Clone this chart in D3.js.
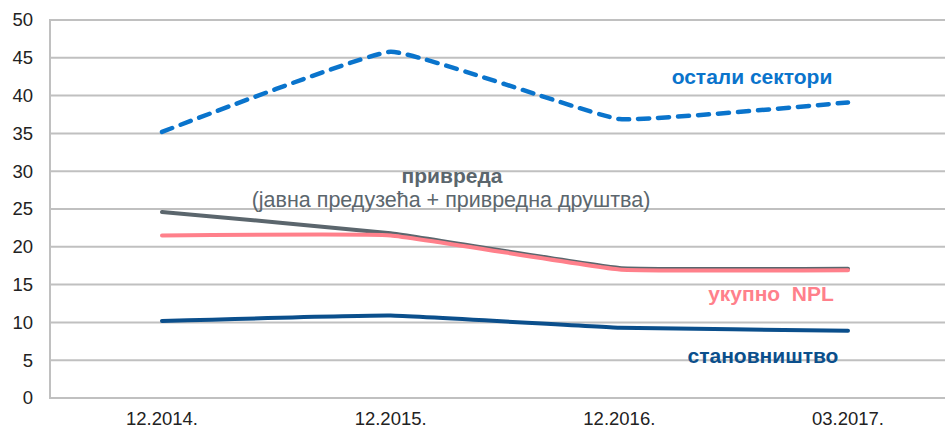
<!DOCTYPE html>
<html>
<head>
<meta charset="utf-8">
<script src="https://cdn.jsdelivr.net/npm/d3@7"></script>
<style>
  body { margin: 0; background: #fff; }
  text { font-family: "Liberation Sans", Arial, sans-serif; }
</style>
</head>
<body>
<svg width="947" height="430"></svg>
<script>
var width = 947,
    height = 430,
    plotLeft = 50,
    plotRight = 945,
    plotTop = 20,
    plotBottom = 398;

var periods = ["12.2014.", "12.2015.", "12.2016.", "03.2017."];
var ostali = [35.2, 45.8, 36.9, 39.1];
var privreda = [24.6, 21.8, 17.2, 17.1];
var ukupno = [21.5, 21.5, 17.0, 16.9];
var stanovnistvo = [10.2, 10.9, 9.3, 8.9];
var yTicks = [0, 5, 10, 15, 20, 25, 30, 35, 40, 45, 50];

var series = [
  {values: ostali, color: "#0A74CC", dash: "11,9"},
  {values: privreda, color: "#5B666D"},
  {values: ukupno, color: "#FF808B"},
  {values: stanovnistvo, color: "#0B4F8C"}
];

var svg = d3.select("svg");

var x = d3.scalePoint()
    .domain(periods)
    .range([162, 848]);

var y = d3.scaleLinear()
    .domain([0, 50])
    .range([plotBottom, plotTop]);

// gridlines
svg.append("g")
  .selectAll("line")
    .data(yTicks)
  .enter().append("line")
    .attr("x1", plotLeft)
    .attr("x2", plotRight)
    .attr("y1", function(d) { return y(d); })
    .attr("y2", function(d) { return y(d); })
    .attr("stroke", "#C0C0C0")
    .attr("stroke-width", 2);

svg.append("line")
    .attr("x1", plotLeft).attr("x2", plotLeft)
    .attr("y1", plotTop - 1).attr("y2", plotBottom + 1)
    .attr("stroke", "#C0C0C0")
    .attr("stroke-width", 2);

// y axis labels
svg.append("g")
  .selectAll("text")
    .data(yTicks)
  .enter().append("text")
    .attr("x", 33)
    .attr("y", function(d) { return y(d); })
    .attr("dy", "0.35em")
    .attr("text-anchor", "end")
    .attr("font-size", 18.5)
    .attr("fill", "#222")
    .text(function(d) { return d; });

// x axis labels
svg.append("g")
  .selectAll("text")
    .data(periods)
  .enter().append("text")
    .attr("x", function(d) { return x(d); })
    .attr("y", 425)
    .attr("text-anchor", "middle")
    .attr("font-size", 18.5)
    .attr("fill", "#222")
    .text(function(d) { return d; });

// excel-style light smoothing
var line = d3.line()
    .x(function(d, i) { return x(periods[i]); })
    .y(function(d) { return y(d); })
    .curve(d3.curveCardinal.tension(0.7));

svg.append("g")
  .selectAll("path")
    .data(series)
  .enter().append("path")
    .attr("d", function(s) { return line(s.values); })
    .attr("fill", "none")
    .attr("stroke", function(s) { return s.color; })
    .attr("stroke-width", function(s) { return s.dash ? 4.5 : 4; })
    .attr("stroke-dasharray", function(s) { return s.dash || null; })
    .attr("stroke-linecap", "round")
    .attr("stroke-linejoin", "round");

// series labels
var labels = [
  {text: "остали сектори", x: 752, y: 84, color: "#0A74CC", bold: true},
  {text: "привреда", x: 452, y: 183, color: "#5B666D", bold: true},
  {text: "(јавна предузећа + привредна друштва)", x: 451, y: 207, color: "#5B666D", bold: false},
  {text: "укупно\u00a0\u00a0NPL", x: 771, y: 301, color: "#FF808B", bold: true},
  {text: "становништво", x: 763, y: 363, color: "#0B4F8C", bold: true}
];

svg.append("g")
  .selectAll("text")
    .data(labels)
  .enter().append("text")
    .attr("x", function(d) { return d.x; })
    .attr("y", function(d) { return d.y; })
    .attr("text-anchor", "middle")
    .attr("font-size", function(d) { return d.bold ? 21 : 21.5; })
    .attr("font-weight", function(d) { return d.bold ? "bold" : "normal"; })
    .attr("fill", function(d) { return d.color; })
    .text(function(d) { return d.text; });
</script>
</body>
</html>
